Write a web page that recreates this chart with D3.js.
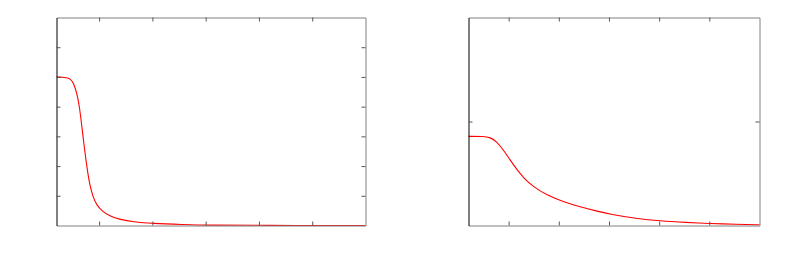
<!DOCTYPE html>
<html>
<head>
<meta charset="utf-8">
<script src="https://cdn.jsdelivr.net/npm/d3@7"></script>
<style>
	body { margin: 0; background: white; }
	svg { display: block; }
</style>
</head>
<body>
<div id="chart"></div>
<script>
// tick values (the axes carry no labels)
const xTicks = [0, 1, 2, 3, 4];
const leftYTicks = [1, 2, 3, 4, 5, 6];
const rightYTicks = [1];

// left panel curve
const leftX = [-0.8, -0.693, -0.618, -0.543, -0.481, -0.417, -0.369, -0.323, -0.28, -0.23, -0.181, -0.117,
	-0.042, 0.052, 0.194, 0.396, 0.639, 0.996, 1.577, 2.028, 3.02, 5.0];
const leftY = [5.0, 4.99, 4.98, 4.94, 4.81, 4.45, 4.0, 3.32, 2.65, 1.97, 1.41, 0.96,
	0.68, 0.49, 0.32, 0.2, 0.12, 0.067, 0.034, 0.012, 0.003, 0.0];

// right panel curve
const rightX = [-0.8, -0.5, -0.369, -0.235, -0.104, 0.029, 0.162, 0.293, 0.492, 0.758, 1.089, 1.421,
	1.785, 2.017, 2.548, 3.011, 3.542, 4.005, 4.536, 5.0];
const rightY = [0.857, 0.857, 0.848, 0.806, 0.726, 0.63, 0.54, 0.46, 0.372, 0.292, 0.228, 0.179,
	0.135, 0.109, 0.067, 0.044, 0.029, 0.019, 0.012, 0.007];

let width = 786,
	height = 275;

let svg = d3.select('#chart')
	.append('svg')
	.attr('width', width)
	.attr('height', height)
	.style('background', 'white');

// helper function to draw one framed panel with its curve
function createPanel(svg, xs, ys, yDomain, yTicks, box) {

	let x = d3.scaleLinear().domain([-0.8, 5]).range([box.left, box.right]);
	let y = d3.scaleLinear().domain(yDomain).range([box.bottom, box.top]);

	let g = svg.append('g');

	// curve (basis keeps it smooth between the read points)
	let points = xs.map((d, i) => [d, ys[i]]);
	g.append('path')
		.datum(points)
		.attr('fill', 'none')
		.attr('stroke', '#ff0000')
		.attr('stroke-width', 1.1)
		.attr('d', d3.line()
			.x(d => x(d[0]))
			.y(d => y(d[1]))
			.curve(d3.curveBasis));

	// mirrored axes with ticks pointing inward
	let axes = [
		[d3.axisBottom(x).tickValues(xTicks), 'translate(0,' + box.bottom + ')', '#808080'],
		[d3.axisTop(x).tickValues(xTicks), 'translate(0,' + box.top + ')', '#808080'],
		[d3.axisRight(y).tickValues(yTicks), 'translate(' + box.right + ',0)', '#808080'],
		[d3.axisLeft(y).tickValues(yTicks), 'translate(' + box.left + ',0)', '#000000']
	];
	axes.forEach(function (a) {
		let ax = g.append('g')
			.attr('transform', a[1])
			.call(a[0].tickSizeInner(-4).tickSizeOuter(0).tickFormat(''));
		ax.select('.domain').attr('stroke', a[2]);
		ax.selectAll('.tick line').attr('stroke', '#555');
	});
}

createPanel(svg, leftX, leftY, [0, 7], leftYTicks,
	{ left: 56.5, right: 365.5, top: 17.5, bottom: 225.5 });
createPanel(svg, rightX, rightY, [0, 2], rightYTicks,
	{ left: 468.5, right: 759.5, top: 17.5, bottom: 225.5 });
</script>
</body>
</html>
